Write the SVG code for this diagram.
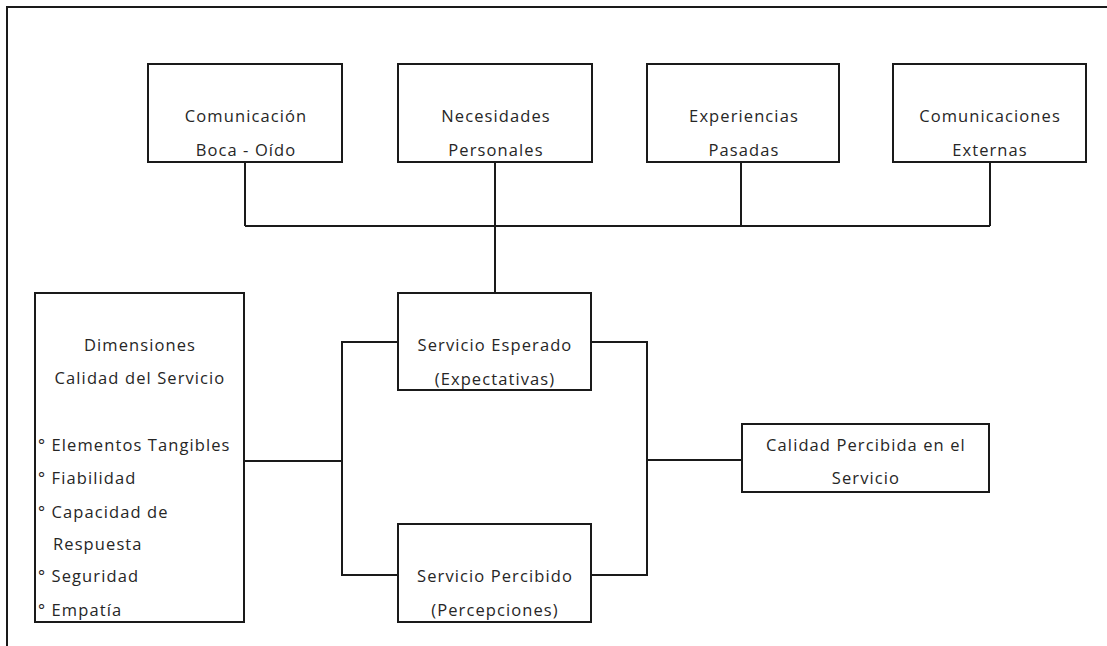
<svg xmlns="http://www.w3.org/2000/svg" width="1107" height="646" viewBox="0 0 1107 646">
  <style>
    .box { fill: #ffffff; stroke: #1a1a1a; stroke-width: 2; }
    .wire { fill: none; stroke: #1a1a1a; stroke-width: 2; }
    .frame { fill: none; stroke: #1a1a1a; stroke-width: 2; }
    text { font-family: "Open Sans", "Liberation Sans", sans-serif; font-size: 16.5px; fill: #262626; letter-spacing: 1.1px; }
    .c { text-anchor: middle; }
  </style>

  <!-- page frame (top and left edges) -->
  <path class="frame" d="M7,646 V7 H1107"/>

  <!-- connectors -->
  <g id="connectors">
    <path class="wire" d="M245,162 V226 M495,162 V226 M741,162 V226 M990,162 V226 M245,226 H990"/>
    <path class="wire" d="M495,226 V293"/>
    <path class="wire" d="M398,342 H342 V575 H398"/>
    <path class="wire" d="M244,461 H342"/>
    <path class="wire" d="M591,342 H647 V575 H591"/>
    <path class="wire" d="M647,460 H742"/>
  </g>

  <g id="comunicacion-boca-oido">
    <rect class="box" x="148" y="64" width="194" height="98"/>
    <text class="c" x="246" y="122">Comunicación</text>
    <text class="c" x="246" y="156">Boca - Oído</text>
  </g>

  <g id="necesidades-personales">
    <rect class="box" x="398" y="64" width="194" height="98"/>
    <text class="c" x="496" y="122">Necesidades</text>
    <text class="c" x="496" y="156">Personales</text>
  </g>

  <g id="experiencias-pasadas">
    <rect class="box" x="647" y="64" width="192" height="98"/>
    <text class="c" x="744" y="122">Experiencias</text>
    <text class="c" x="744" y="156">Pasadas</text>
  </g>

  <g id="comunicaciones-externas">
    <rect class="box" x="893" y="64" width="193" height="98"/>
    <text class="c" x="990" y="122">Comunicaciones</text>
    <text class="c" x="990" y="156">Externas</text>
  </g>

  <g id="servicio-esperado">
    <rect class="box" x="398" y="293" width="193" height="97"/>
    <text class="c" x="495" y="351">Servicio Esperado</text>
    <text class="c" x="495" y="385">(Expectativas)</text>
  </g>

  <g id="servicio-percibido">
    <rect class="box" x="398" y="524" width="193" height="98"/>
    <text class="c" x="495" y="582">Servicio Percibido</text>
    <text class="c" x="495" y="616">(Percepciones)</text>
  </g>

  <g id="dimensiones-calidad">
    <rect class="box" x="35" y="293" width="209" height="329"/>
    <text class="c" x="140" y="351">Dimensiones</text>
    <text class="c" x="140" y="384">Calidad del Servicio</text>
    <text x="38" y="451">° Elementos Tangibles</text>
    <text x="38" y="484">° Fiabilidad</text>
    <text x="38" y="518">° Capacidad de</text>
    <text x="53" y="550">Respuesta</text>
    <text x="38" y="582">° Seguridad</text>
    <text x="38" y="616">° Empatía</text>
  </g>

  <g id="calidad-percibida">
    <rect class="box" x="742" y="424" width="247" height="68"/>
    <text class="c" x="866" y="451">Calidad Percibida en el</text>
    <text class="c" x="866" y="484">Servicio</text>
  </g>
</svg>
